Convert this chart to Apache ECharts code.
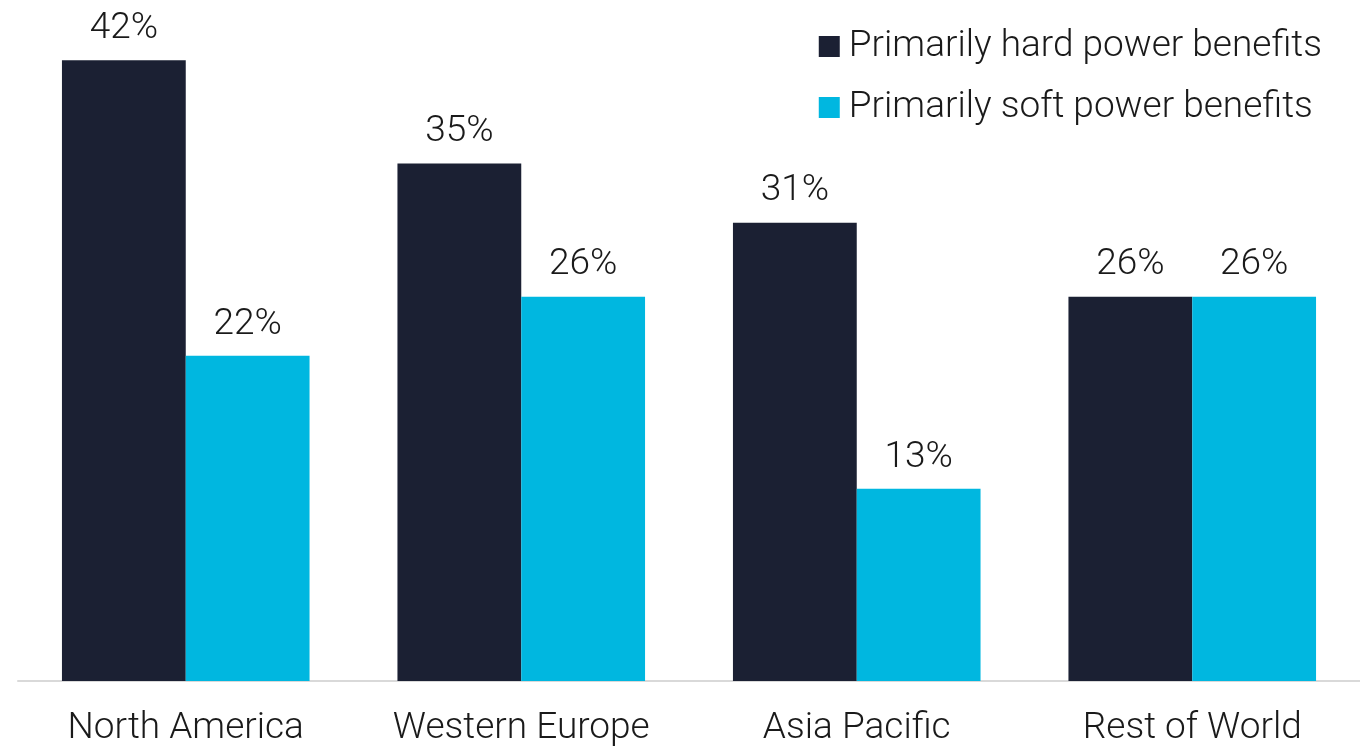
<!DOCTYPE html>
<html><head><meta charset="utf-8">
<script src="https://cdn.jsdelivr.net/npm/echarts@6/dist/echarts.min.js"></script>
<style>html,body{margin:0;padding:0;background:#fff}#c{width:1360px;height:747px}</style>
</head><body><div id="c"></div>
<script>
const categories = ['North America', 'Western Europe', 'Asia Pacific', 'Rest of World'];
const hardPower = [42, 35, 31, 26];
const softPower = [22, 26, 13, 26];
const seriesNames = ['Primarily hard power benefits', 'Primarily soft power benefits'];

const chart = echarts.init(document.getElementById('c'));
const font = 'Roboto';
const lbl = {
  show: true, position: 'top', distance: 13,
  formatter: p => p.value + '%',
  fontFamily: font, fontWeight: 300, fontSize: 37, color: '#1a1a1a'
};
chart.setOption({
  animation: false,
  grid: { left: 18, right: -3, top: 1, bottom: 64, containLabel: false },
  legend: {
    orient: 'vertical', right: 33, top: 23,
    itemWidth: 21, itemHeight: 21, itemGap: 24,
    icon: 'rect',
    textStyle: { fontFamily: font, fontWeight: 300, fontSize: 37, color: '#1a1a1a', padding: [0, 0, 0, 4] },
    data: seriesNames
  },
  xAxis: {
    type: 'category', data: categories,
    axisLine: { lineStyle: { color: '#d9d9d9', width: 2 } },
    axisTick: { show: false },
    axisLabel: { fontFamily: font, fontWeight: 300, fontSize: 37, color: '#1a1a1a', margin: 29 }
  },
  yAxis: {
    type: 'value', min: 0, max: 46, show: false, splitLine: { show: false }
  },
  series: [
    { name: seriesNames[0], type: 'bar', data: hardPower, barGap: '0%', barCategoryGap: '26.2%',
      itemStyle: { color: '#1b2033' }, label: lbl },
    { name: seriesNames[1], type: 'bar', data: softPower,
      itemStyle: { color: '#00b7e0' }, label: lbl }
  ]
});
</script></body></html>
